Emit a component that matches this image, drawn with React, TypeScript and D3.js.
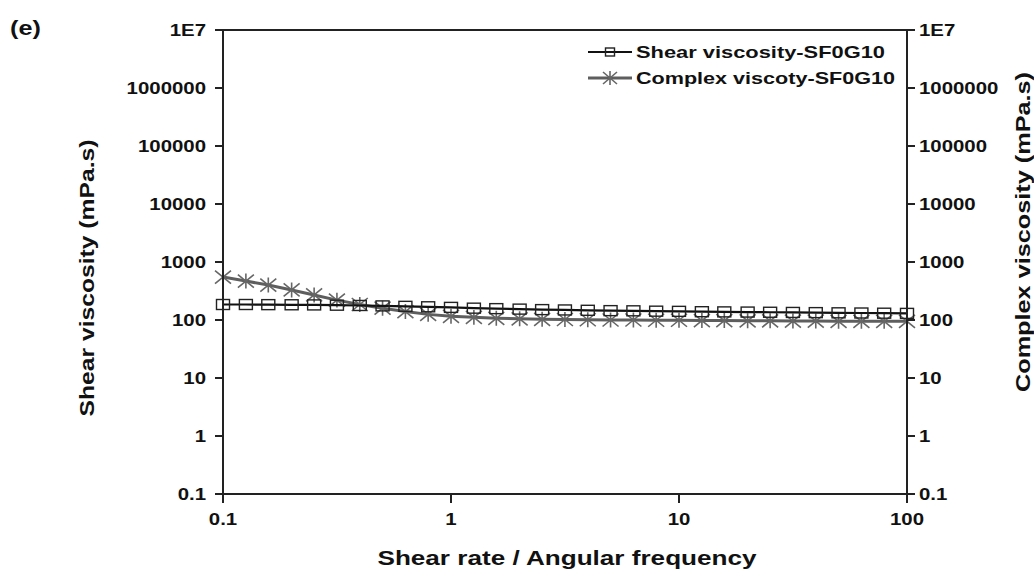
import React from "react";
import * as d3 from "d3";

const xValues = [0.1, 0.126, 0.158, 0.2, 0.251, 0.316, 0.398, 0.501, 0.631, 0.794, 1, 1.26, 1.58, 2, 2.51, 3.16, 3.98, 5.01, 6.31, 7.94, 10, 12.6, 15.8, 20, 25.1, 31.6, 39.8, 50.1, 63.1, 79.4, 100];
const shearViscosity = [185, 185, 184, 183, 182, 180, 178, 175, 172, 169, 165, 160, 157, 154, 151, 149, 147, 145, 144, 142, 141, 139, 138, 137, 136, 135, 134, 133, 132, 131, 130];
const complexViscosity = [550, 470, 400, 330, 270, 220, 185, 160, 140, 125, 116, 111, 107, 105, 103, 102, 101, 100, 100, 99, 99, 98, 98, 97, 97, 96, 96, 95, 95, 95, 95];
const yTicks = [0.1, 1, 10, 100, 1000, 10000, 100000, 1000000, 10000000];
const yTickLabels = ["0.1", "1", "10", "100", "1000", "10000", "100000", "1000000", "1E7"];
const xTicks = [0.1, 1, 10, 100];
const xTickLabels = ["0.1", "1", "10", "100"];
const seriesNames = ["Shear viscosity-SF0G10", "Complex viscoty-SF0G10"];

const W = 1034, H = 576;
const L = 223, R = 907, T = 30, B = 494;
const font = "Arial, 'Liberation Sans', Helvetica, sans-serif";
const SX = 1.2;

function Square({ x, y, w = 13, h = 10 }: { x: number; y: number; w?: number; h?: number }) {
  return <rect x={x - w / 2} y={y - h / 2} width={w} height={h} fill="none" stroke="#222" strokeWidth={1.4} />;
}
function Star({ x, y, rx = 8, ry = 6.5 }: { x: number; y: number; rx?: number; ry?: number }) {
  const d = `M${x - rx},${y - ry}L${x + rx},${y + ry}M${x - rx},${y + ry}L${x + rx},${y - ry}M${x},${y - ry * 1.15}L${x},${y + ry * 1.15}`;
  return <path d={d} stroke="#666" strokeWidth={1.6} fill="none" />;
}
function SText({ x, y, anchor, children }: { x: number; y: number; anchor: string; children: React.ReactNode }) {
  return (
    <text transform={`translate(${x},${y}) scale(${SX},1)`} textAnchor={anchor} fontSize={17} fontWeight="bold" fill="#111">
      {children}
    </text>
  );
}

export default function App() {
  const x = d3.scaleLog().domain([0.1, 100]).range([L, R]);
  const y = d3.scaleLog().domain([0.1, 1e7]).range([B, T]);
  const line = d3.line<number>().x((_, i) => x(xValues[i])).y((v) => y(v));
  return (
    <svg width={W} height={H} style={{ display: "block", position: "absolute", left: 0, top: 0 }} fontFamily={font}>
      <rect width={W} height={H} fill="#fff" />
      <text transform="translate(10,35) scale(1.2,1)" fontSize={21} fontWeight="bold" fill="#111">(e)</text>
      {/* data */}
      <path d={line(complexViscosity) || ""} fill="none" stroke="#5e5e5e" strokeWidth={3} />
      {complexViscosity.map((v, i) => <Star key={"c" + i} x={x(xValues[i])} y={y(v)} />)}
      <path d={line(shearViscosity) || ""} fill="none" stroke="#111" strokeWidth={2.2} />
      {shearViscosity.map((v, i) => <Square key={"s" + i} x={x(xValues[i])} y={y(v)} />)}
      {/* frame */}
      <rect x={L} y={T} width={R - L} height={B - T} fill="none" stroke="#222" strokeWidth={2} />
      {yTicks.map((t, i) => (
        <g key={"y" + i}>
          <line x1={L - 8} x2={L} y1={y(t)} y2={y(t)} stroke="#222" strokeWidth={2} />
          <line x1={R} x2={R + 8} y1={y(t)} y2={y(t)} stroke="#222" strokeWidth={2} />
          <SText x={L - 17} y={y(t) + 6} anchor="end">{yTickLabels[i]}</SText>
          <SText x={R + 12} y={y(t) + 6} anchor="start">{yTickLabels[i]}</SText>
        </g>
      ))}
      {xTicks.map((t, i) => (
        <g key={"x" + i}>
          <line x1={x(t)} x2={x(t)} y1={B} y2={B + 9} stroke="#222" strokeWidth={2} />
          <SText x={x(t)} y={B + 31} anchor="middle">{xTickLabels[i]}</SText>
        </g>
      ))}
      <text x={567} y={565} textAnchor="middle" fontSize={20} fontWeight="bold" fill="#111" textLength={379} lengthAdjust="spacingAndGlyphs">Shear rate / Angular frequency</text>
      <text transform={`translate(94,278) rotate(-90)`} textAnchor="middle" fontSize={20} fontWeight="bold" fill="#111" textLength={277} lengthAdjust="spacingAndGlyphs">Shear viscosity (mPa.s)</text>
      <text transform={`translate(1030,232) rotate(-90)`} textAnchor="middle" fontSize={20} fontWeight="bold" fill="#111" textLength={320} lengthAdjust="spacingAndGlyphs">Complex viscosity (mPa.s)</text>
      {/* legend */}
      <g>
        <line x1={588} x2={632} y1={52} y2={52} stroke="#111" strokeWidth={2} />
        <Square x={610} y={52} w={9} h={8} />
        <text x={636} y={58} fontSize={17} fontWeight="bold" fill="#111" textLength={249} lengthAdjust="spacingAndGlyphs">{seriesNames[0]}</text>
        <line x1={588} x2={632} y1={78} y2={78} stroke="#5e5e5e" strokeWidth={3} />
        <Star x={610} y={78} rx={7} ry={6} />
        <text x={636} y={84} fontSize={17} fontWeight="bold" fill="#111" textLength={259} lengthAdjust="spacingAndGlyphs">{seriesNames[1]}</text>
      </g>
    </svg>
  );
}
